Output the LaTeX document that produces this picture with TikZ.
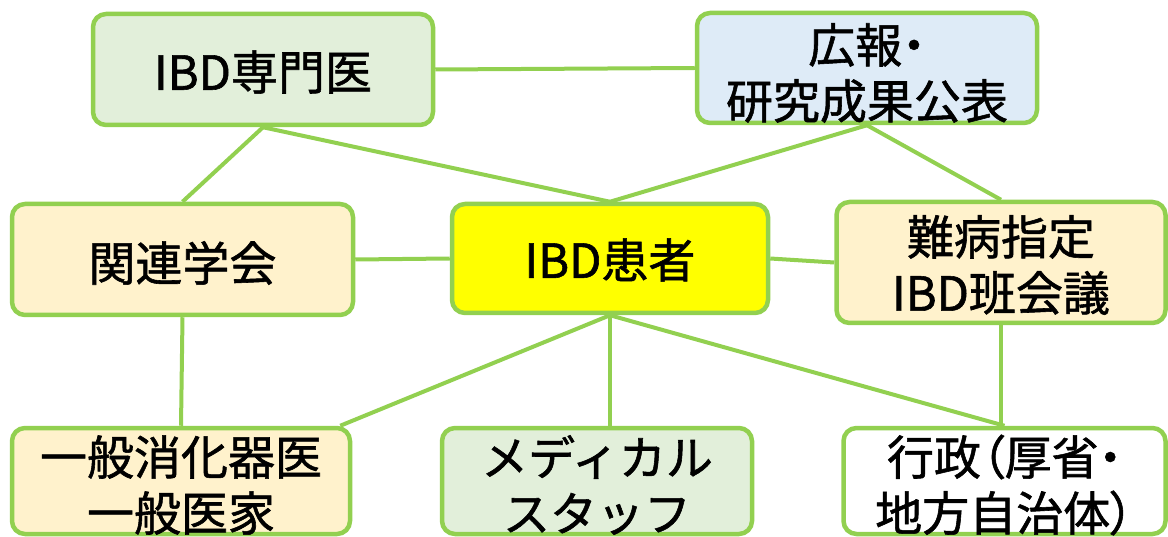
\documentclass[tikz,border=0pt]{standalone}
\usepackage{fontspec}
\setmainfont{Noto Sans CJK JP}[FakeBold=1.2]
\newfontfamily\pfont{Noto Sans CJK JP}[FakeBold=1.2,RawFeature=+palt]
\usetikzlibrary{backgrounds,calc}
\definecolor{edge}{HTML}{92D050}
\definecolor{lgreen}{HTML}{E2EFDA}
\definecolor{lblue}{HTML}{DEEBF7}
\definecolor{lyellow}{HTML}{FFF2CC}
\definecolor{yel}{HTML}{FFFF00}
\tikzset{
  box/.style={draw=edge, line width=4.5pt, rounded corners=13pt, inner sep=0pt},
  txt/.style={font=\fontsize{47}{56}\selectfont, align=center, text=black, inner sep=0pt},
  link/.style={draw=edge, line width=4pt}
}
\begin{document}
\begin{tikzpicture}[x=1pt,y=-1pt]
\useasboundingbox (0,0) rectangle (1168,537);
\clip (0,0) rectangle (1168,537);
% boxes
\node[box, fill=lgreen, minimum width=340pt, minimum height=111pt] (spec) at (263,69.5) {};
\node[box, fill=lblue, minimum width=340pt, minimum height=110pt] (pr) at (867,68) {};
\node[box, fill=lyellow, minimum width=341pt, minimum height=111pt] (soc) at (182.5,259.5) {};
\node[box, fill=yel, minimum width=316pt, minimum height=109pt] (pat) at (610,258.5) {};
\node[box, fill=lyellow, minimum width=329pt, minimum height=121pt] (nan) at (1001,262.5) {};
\node[box, fill=lyellow, minimum width=338pt, minimum height=106pt] (gen) at (181,481) {};
\node[box, fill=lgreen, minimum width=310pt, minimum height=106pt] (med) at (597,481) {};
\node[box, fill=white, minimum width=322pt, minimum height=106pt] (gov) at (1004.5,481) {};
% connectors
\begin{scope}[on background layer]
\draw[link] (spec.east) -- (pr.west);
\draw[link] (spec.south) -- (soc.north);
\draw[link] (spec.south) -- (pat.north);
\draw[link] (pr.south) -- (pat.north);
\draw[link] (pr.south) -- (nan.north);
\draw[link] (soc.east) -- (pat.west);
\draw[link] (pat.east) -- (nan.west);
\draw[link] (soc.south) -- (gen.north);
\draw[link] (pat.south) -- ($(gen.north east)+(-12,0)$);
\draw[link] (pat.south) -- (pat.south |- med.north);
\draw[link] (pat.south) -- (gov.north);
\draw[link] (nan.south) -- (nan.south |- gov.north);
\end{scope}
% texts
\node[txt] (tspec) at (263,72) {IBD専門医};
\node[txt] (tpr) at (867,73) {広報{\pfont ・}\\研究成果公表};
\node[txt] (tsoc) at (182.5,263) {関連学会};
\node[txt] (tpat) at (610,260) {IBD患者};
\node[txt] (tnan) at (1001,265) {難病指定\\IBD班会議};
\node[txt] (tgen) at (181,485) {一般消化器医\\一般医家};
\node[txt] (tmed) at (597,485) {メディカル\\スタッフ};
\node[txt] (tgov) at (1004.5,485) {行政{\pfont （}厚省{\pfont ・}\\地方自治体{\pfont ）}};
\end{tikzpicture}
\end{document}
